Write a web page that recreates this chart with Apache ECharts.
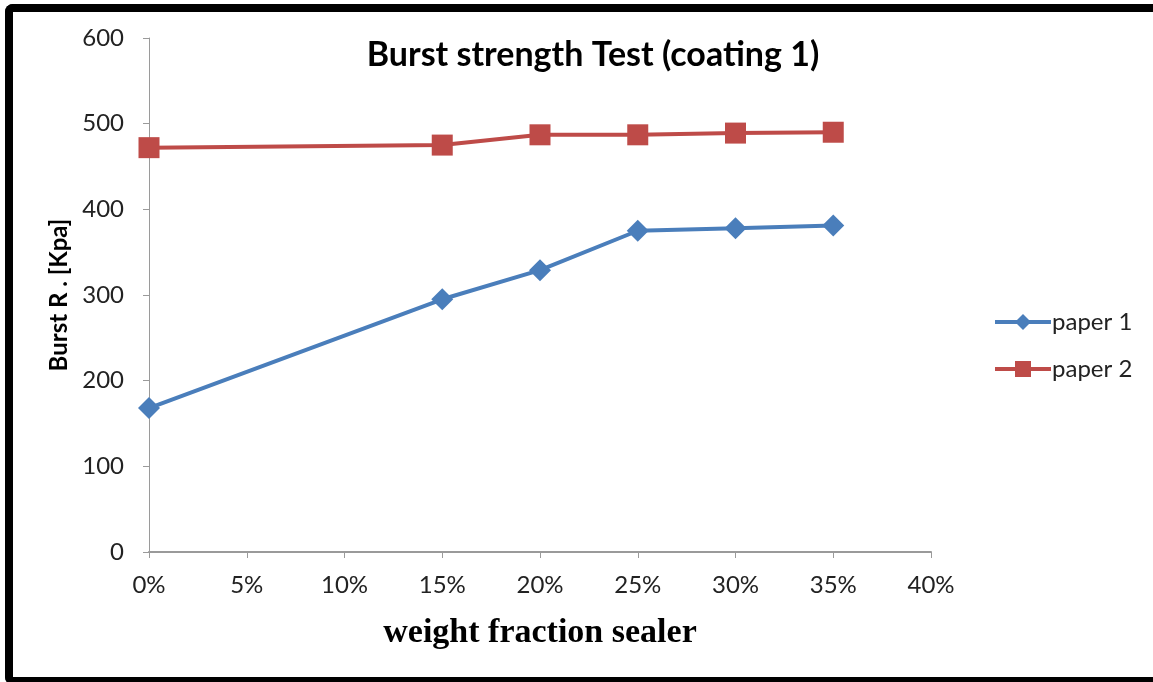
<!DOCTYPE html>
<html>
<head>
<meta charset="utf-8">
<script src="https://cdn.jsdelivr.net/npm/echarts@6/dist/echarts.min.js"></script>
<style>
html,body{margin:0;padding:0;background:#fff;overflow:hidden;width:1153px;height:682px;}
#frame{position:absolute;left:5px;top:4px;width:1148px;height:681px;border-left:8px solid #000;border-top:8px solid #000;border-bottom:8px solid #000;border-right:none;border-radius:8px 0 0 8px;box-sizing:border-box;}
#chart{position:absolute;left:0;top:0;width:1153px;height:682px;}
</style>
</head>
<body>
<div id="chart"></div>
<div id="frame"></div>
<script>
var titleText = 'Burst strength Test (coating 1)';
var xAxisName = 'weight fraction sealer';
var yAxisName = 'Burst R . [Kpa]';
var fractions = [0, 0.15, 0.20, 0.25, 0.30, 0.35];
var paper1 = [168, 295, 329, 375, 378, 381];
var paper2 = [472, 475, 487, 487, 489, 490];
var seriesNames = ['paper 1', 'paper 2'];

function pairs(xs, ys){ return xs.map(function(x,i){ return [x, ys[i]]; }); }

var chart = echarts.init(document.getElementById('chart'), null, {renderer:'canvas'});
chart.setOption({
  animation:false,
  backgroundColor:'#fff',
  title:{
    text:titleText, left:588, top:33, textAlign:'center',
    textStyle:{fontFamily:'Lato', fontWeight:'bold', fontSize:34, color:'#000'}
  },
  legend:{
    orient:'vertical', left:988, top:305, itemWidth:56, itemHeight:20, itemGap:23,
    lineStyle:{width:4},
    textStyle:{fontFamily:'Lato', fontSize:24, lineHeight:24, color:'#222', padding:[0,0,0,-4]},
    data:seriesNames
  },
  grid:{left:149, right:222, top:38, bottom:130, containLabel:false},
  xAxis:{
    type:'value', min:0, max:0.4, interval:0.05,
    name:xAxisName, nameLocation:'middle', nameGap:64,
    nameTextStyle:{fontFamily:'Liberation Serif', fontWeight:'bold', fontSize:34, color:'#000'},
    axisLine:{lineStyle:{color:'#9a9a9a', width:2}},
    axisTick:{show:true, length:6, lineStyle:{color:'#9a9a9a', width:1}},
    splitLine:{show:false},
    axisLabel:{margin:21, fontFamily:'Lato', fontSize:24, color:'#222',
      formatter:function(v){ return Math.round(v*100)+'%'; }}
  },
  yAxis:{
    type:'value', min:0, max:600, interval:100,
    name:yAxisName, nameLocation:'middle', nameGap:77, nameRotate:90,
    nameTextStyle:{fontFamily:'Lato', fontWeight:'bold', fontSize:24, color:'#000'},
    axisLine:{show:true, lineStyle:{color:'#9a9a9a', width:1}},
    axisTick:{show:true, length:6, lineStyle:{color:'#9a9a9a'}},
    splitLine:{show:false},
    axisLabel:{margin:25, fontFamily:'Lato', fontSize:24, color:'#222'}
  },
  series:[
    {name:seriesNames[0], type:'line', data:pairs(fractions, paper1),
     symbol:'diamond', symbolSize:22,
     lineStyle:{color:'#4a7ebb', width:4},
     itemStyle:{color:'#4a7ebb'}},
    {name:seriesNames[1], type:'line', data:pairs(fractions, paper2),
     symbol:'rect', symbolSize:21,
     lineStyle:{color:'#be4b48', width:4},
     itemStyle:{color:'#be4b48'}}
  ]
});
</script>
</body>
</html>
